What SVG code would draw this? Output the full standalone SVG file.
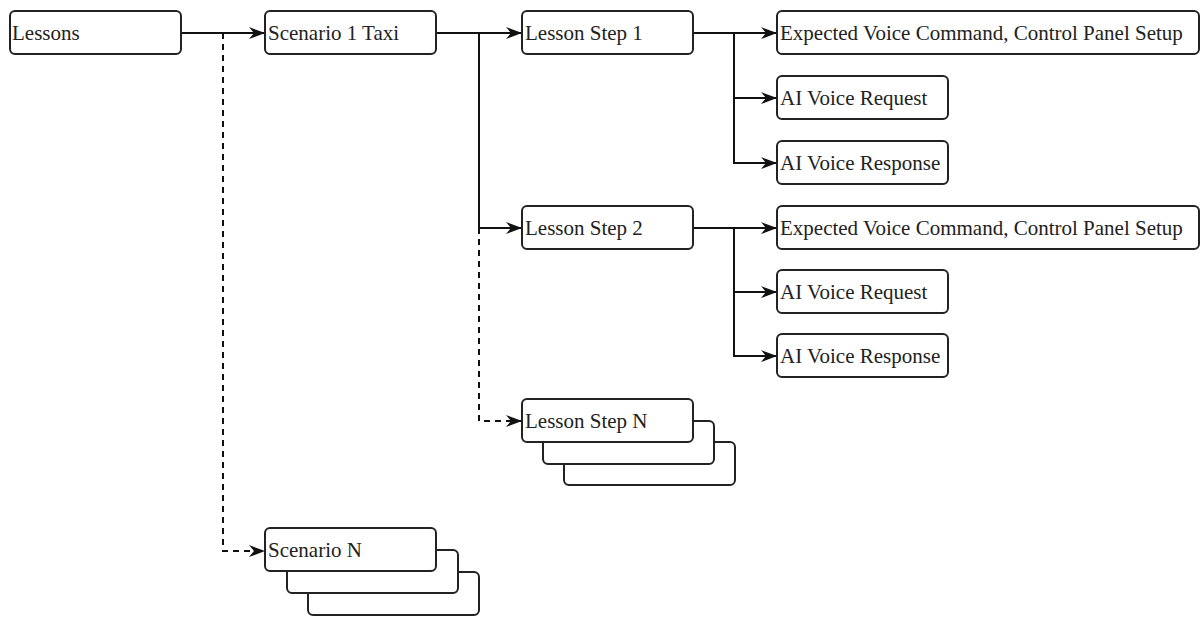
<svg xmlns="http://www.w3.org/2000/svg" width="1201" height="617" viewBox="0 0 1201 617">
  <style>
    .box { fill: #ffffff; stroke: #222222; stroke-width: 2; }
    .lbl { font-family: "Liberation Serif", "Times New Roman", Times, serif; font-size: 21px; fill: #222222; }
    .edge { fill: none; stroke: #111111; stroke-width: 2; }
    .dash { stroke-dasharray: 6 5; }
  </style>
  <defs>
    <marker id="arrow" viewBox="0 0 16 12" refX="15" refY="6" markerWidth="8" markerHeight="6" orient="auto">
      <path d="M0,0 L16,6 L0,12 L5,6 Z" fill="#111111"/>
    </marker>
  </defs>

  <g id="connectors">
    <path class="edge" d="M181,33 H264" marker-end="url(#arrow)"/>
    <path class="edge dash" d="M223,33 V551 H264" marker-end="url(#arrow)"/>
    <path class="edge" d="M436,33 H521" marker-end="url(#arrow)"/>
    <path class="edge" d="M479,33 V228 H521" marker-end="url(#arrow)"/>
    <path class="edge dash" d="M479,228 V421 H521" marker-end="url(#arrow)"/>
    <path class="edge" d="M693,33 H776" marker-end="url(#arrow)"/>
    <path class="edge" d="M734,33 V98 H776" marker-end="url(#arrow)"/>
    <path class="edge" d="M734,98 V163 H776" marker-end="url(#arrow)"/>
    <path class="edge" d="M693,228 H776" marker-end="url(#arrow)"/>
    <path class="edge" d="M734,228 V292 H776" marker-end="url(#arrow)"/>
    <path class="edge" d="M734,292 V356 H776" marker-end="url(#arrow)"/>
  </g>

  <g id="lessons">
    <rect class="box" x="10" y="11" width="171" height="43" rx="5"/>
    <text class="lbl" x="12" y="40">Lessons</text>
  </g>
  <g id="scenario-1-taxi">
    <rect class="box" x="265" y="11" width="171" height="43" rx="5"/>
    <text class="lbl" x="268" y="40">Scenario 1 Taxi</text>
  </g>
  <g id="scenario-n">
    <rect class="box" x="308" y="572" width="171" height="43" rx="5"/>
    <rect class="box" x="287" y="550" width="171" height="43" rx="5"/>
    <rect class="box" x="265" y="528" width="171" height="43" rx="5"/>
    <text class="lbl" x="268" y="557">Scenario N</text>
  </g>
  <g id="lesson-step-1">
    <rect class="box" x="522" y="11" width="171" height="43" rx="5"/>
    <text class="lbl" x="525" y="40">Lesson Step 1</text>
  </g>
  <g id="lesson-step-2">
    <rect class="box" x="522" y="206" width="171" height="43" rx="5"/>
    <text class="lbl" x="525" y="235">Lesson Step 2</text>
  </g>
  <g id="lesson-step-n">
    <rect class="box" x="564" y="442" width="171" height="43" rx="5"/>
    <rect class="box" x="543" y="421" width="171" height="43" rx="5"/>
    <rect class="box" x="522" y="399" width="171" height="43" rx="5"/>
    <text class="lbl" x="525" y="428">Lesson Step N</text>
  </g>
  <g id="expected-1">
    <rect class="box" x="777" y="11" width="422" height="43" rx="5"/>
    <text class="lbl" x="780" y="40">Expected Voice Command, Control Panel Setup</text>
  </g>
  <g id="ai-request-1">
    <rect class="box" x="777" y="76" width="171" height="43" rx="5"/>
    <text class="lbl" x="780" y="105">AI Voice Request</text>
  </g>
  <g id="ai-response-1">
    <rect class="box" x="777" y="141" width="171" height="43" rx="5"/>
    <text class="lbl" x="780" y="170">AI Voice Response</text>
  </g>
  <g id="expected-2">
    <rect class="box" x="777" y="206" width="422" height="43" rx="5"/>
    <text class="lbl" x="780" y="235">Expected Voice Command, Control Panel Setup</text>
  </g>
  <g id="ai-request-2">
    <rect class="box" x="777" y="270" width="171" height="43" rx="5"/>
    <text class="lbl" x="780" y="299">AI Voice Request</text>
  </g>
  <g id="ai-response-2">
    <rect class="box" x="777" y="334" width="171" height="43" rx="5"/>
    <text class="lbl" x="780" y="363">AI Voice Response</text>
  </g>
</svg>
